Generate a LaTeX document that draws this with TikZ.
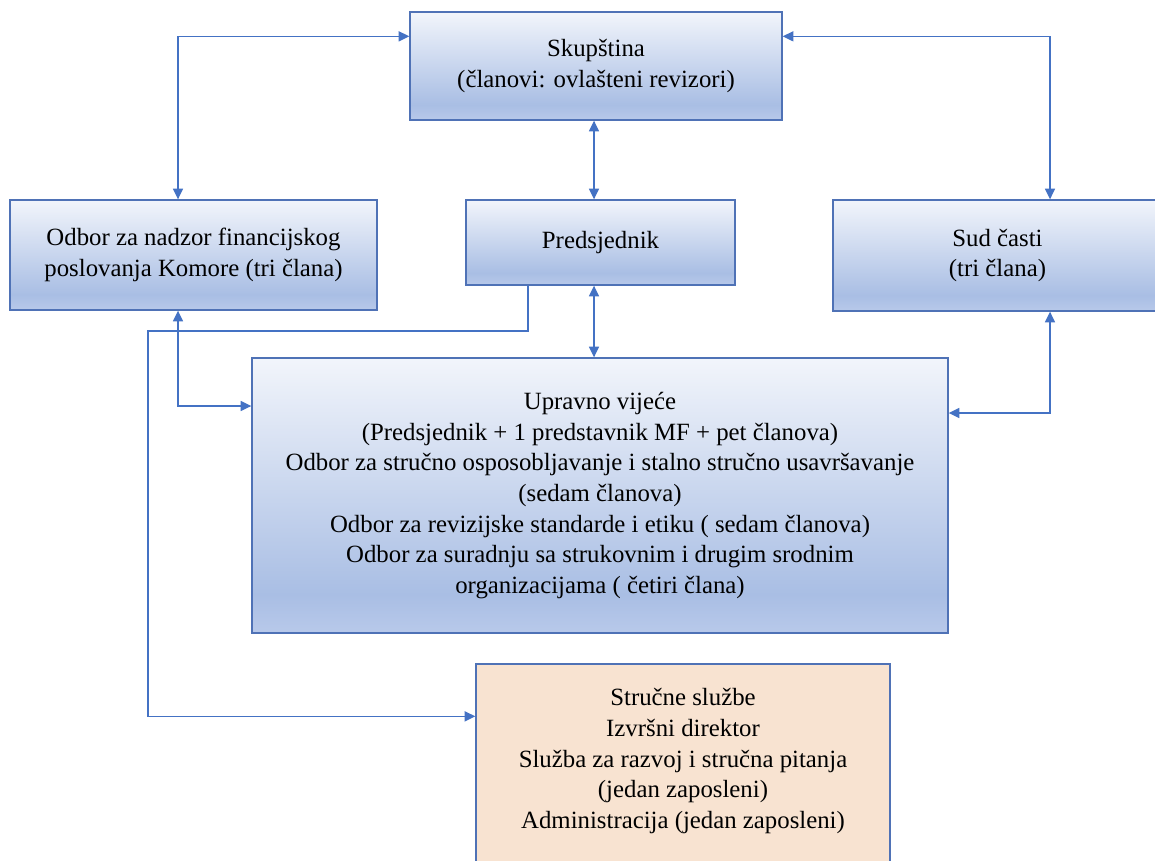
\documentclass[tikz,border=0pt]{standalone}
\usepackage{fontspec}
\newfontfamily\libserif{Liberation Serif}
\usetikzlibrary{arrows.meta,calc}
\definecolor{lineblue}{HTML}{4472C4}
\definecolor{boxedge}{HTML}{4F72B6}
\definecolor{beige}{HTML}{F8E3D1}
\definecolor{gtop}{HTML}{F2F5FB}
\definecolor{gdark}{HTML}{A9BEE4}
\definecolor{gbot}{HTML}{B8C9EA}
\pgfdeclareverticalshading{boxgrad}{100bp}{color(0bp)=(gbot); color(25bp)=(gbot); color(32bp)=(gdark); color(75bp)=(gtop); color(100bp)=(gtop)}
\tikzset{
  bluebox/.style={draw=boxedge, line width=1pt, shading=boxgrad, inner sep=0pt, align=center,
    font=\libserif\fontsize{18.6}{23}\selectfont},
  beigebox/.style={draw=boxedge, line width=1pt, fill=beige, inner sep=0pt, align=center,
    font=\libserif\fontsize{18.6}{23}\selectfont},
  bi/.style={draw=lineblue, line width=1.1pt, {Triangle[length=8pt,width=7.5pt]}-{Triangle[length=8pt,width=7.5pt]}},
  one/.style={draw=lineblue, line width=1.1pt, -{Triangle[length=8pt,width=7.5pt]}}
}
\begin{document}
\begin{tikzpicture}[x=0.75pt,y=-0.75pt]
\useasboundingbox (0,0) rectangle (1155,860);
\node[bluebox, minimum width=372*0.75pt, minimum height=108*0.75pt] (skup) at (596,66)
  {Skupština\\(članovi: ovlašteni revizori)};
\node[bluebox, minimum width=367*0.75pt, minimum height=110*0.75pt] (odbor) at (193.5,255)
  {Odbor za nadzor financijskog\\poslovanja Komore (tri člana)};
\node[bluebox, minimum width=269*0.75pt, minimum height=85*0.75pt] (pred) at (600.5,242.5)
  {Predsjednik};
\node[bluebox, minimum width=329*0.75pt, minimum height=111*0.75pt] (sud) at (997.5,255.5)
  {Sud časti\\(tri člana)};
\node[bluebox, minimum width=696*0.75pt, minimum height=275*0.75pt] (upr) at (600,495.5)
  {Upravno vijeće\\(Predsjednik + 1 predstavnik MF + pet članova)\\Odbor za stručno osposobljavanje i stalno stručno usavršavanje\\(sedam članova)\\Odbor za revizijske standarde i etiku ( sedam članova)\\Odbor za suradnju sa strukovnim i drugim srodnim\\organizacijama ( četiri člana)};
\node[beigebox, minimum width=414*0.75pt, minimum height=211*0.75pt] (struc) at (683,769.5)
  {Stručne službe\\Izvršni direktor\\Služba za razvoj i stručna pitanja\\(jedan zaposleni)\\Administracija (jedan zaposleni)\rule[-16.5pt]{0pt}{0pt}};
\coordinate (bend) at (148,331);
\draw[bi] ($(skup.north west)+(0,25)$) -| ($(odbor.north)+(-15.5,0)$);
\draw[bi] ($(skup.north east)+(0,25)$) -| ($(sud.north)+(52.5,0)$);
\draw[bi] (skup.south -| 594,0) -- ($(pred.north)+(-6.5,0)$);
\draw[bi] ($(pred.south)+(-6.5,0)$) -- (upr.north -| 594,0);
\draw[bi] ($(odbor.south)+(-15.5,0)$) |- ($(upr.west)+(0,-89.5)$);
\draw[bi] ($(sud.south)+(52.5,0)$) |- ($(upr.east)+(0,-82.5)$);
\draw[one] ($(pred.south)+(-72.5,0)$) |- (bend) |- ($(struc.north west)+(0,53)$);
\end{tikzpicture}
\end{document}
